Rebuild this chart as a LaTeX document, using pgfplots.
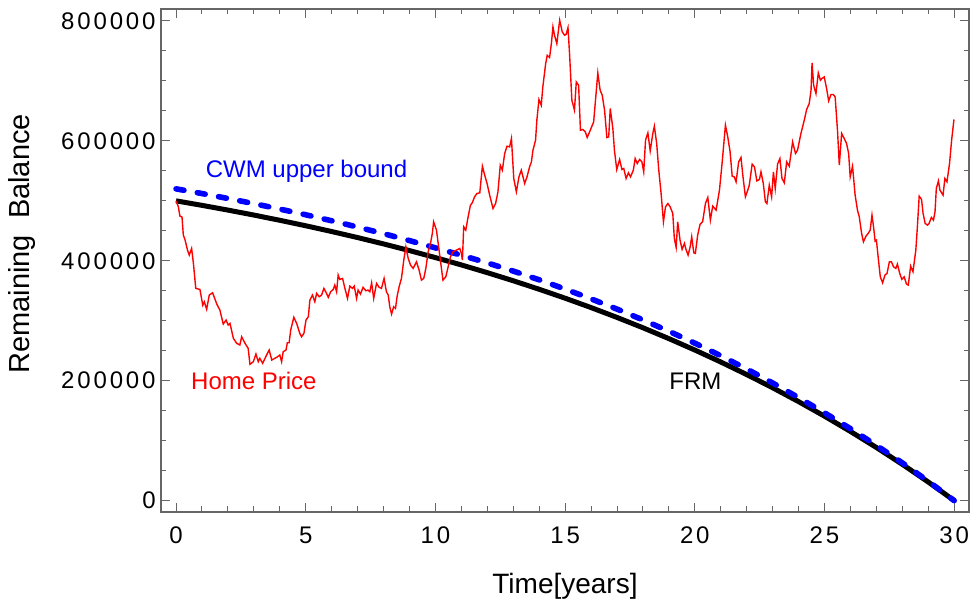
\documentclass[border=0pt]{standalone}
\usepackage{fontspec}
\setmainfont{Liberation Sans}
\newfontfamily\tickfont{Liberation Sans}[LetterSpace=12]
\usepackage{pgfplots}
\pgfplotsset{compat=1.18}
\begin{document}
\begin{tikzpicture}
\begin{axis}[
  scale only axis, width=404pt, height=251.5pt,
  xmin=-0.58, xmax=30.57, ymin=-19000, ymax=820000,
  axis line style={black!60, line width=0.8pt},
  tick style={black!60, line width=0.5pt},
  tick align=inside,
  major tick length=4.5pt, minor tick length=2.75pt,
  xtick={0,5,10,15,20,25,30}, xticklabels={0,5,10,15,20,25,30},
  minor x tick num=4,
  ytick={0,200000,400000,600000,800000},
  yticklabels={0,200000,400000,600000,800000},
  minor y tick num=3,
  scaled y ticks=false,
  xticklabel style={font=\fontsize{12}{14}\tickfont, anchor=base, yshift=-16pt},
  yticklabel style={font=\fontsize{12}{14}\tickfont, anchor=east, inner xsep=2.5pt},
  xlabel={Time[years]},
  ylabel={Remaining\ \ Balance},
  every axis x label/.style={at={(axis description cs:0.5,0)}, anchor=center, yshift=-37pt, font=\fontsize{14}{16}\selectfont},
  every axis y label/.style={at={(axis description cs:-0.172,0.533)}, anchor=center, rotate=90, font=\fontsize{14.5}{16}\selectfont},
]
% FRM
\addplot[black, line width=2.5pt] coordinates {
(0,500000)(1,492475)(2,484573)(3,476276)(4,467564)(5,458416)(6,448811)(7,438726)
(8,428136)(9,417018)(10,405342)(11,393084)(12,380212)(13,366697)(14,352506)
(15,337606)(16,321960)(17,305533)(18,288284)(19,270172)(20,251155)(21,231187)
(22,210221)(23,188206)(24,165091)(25,140819)(26,115335)(27,88575)(28,60479)
(29,30977)(30,0)};
% CWM upper bound
\addplot[blue, line width=2.8pt, dash pattern=on 4pt off 6.8pt, line cap=round] coordinates {
(0,520000)(1,512174)(2,503956)(3,495327)(4,486267)(5,476753)(6,466763)(7,456275)
(8,445261)(9,433699)(10,421556)(11,409300)(12,396500)(13,382800)(14,368300)
(15,352800)(16,336500)(17,319400)(18,301400)(19,282500)(20,262600)(21,241600)
(22,219500)(23,196200)(24,171695)(25,146452)(26,119948)(27,92118)(28,62898)
(29,32216)(30,0)};
% Home price
\addplot[red, line width=0.7pt] coordinates {
(0,500000)(0.09,490000)(0.15,474500)(0.23,473000)(0.28,443000)(0.35,434500)
(0.44,418000)(0.51,409500)(0.60,420600)(0.67,395600)(0.76,354000)(0.92,352300)
(1.03,326000)(1.09,331700)(1.18,319000)(1.28,342800)(1.41,346700)(1.57,327800)
(1.69,317800)(1.82,294500)(1.93,301200)(2.01,292800)(2.08,295600)(2.21,270600)
(2.34,262300)(2.46,259500)(2.53,273300)(2.66,262300)(2.78,254000)(2.85,227300)
(2.98,231700)(3.08,244500)(3.17,231700)(3.23,237300)(3.34,229000)(3.49,242800)
(3.59,251200)(3.69,234500)(3.88,239000)(4.00,242800)(4.07,231700)(4.13,248300)
(4.24,251200)(4.29,263300)(4.36,263300)(4.42,284500)(4.54,305700)(4.65,295600)
(4.77,279000)(4.84,273300)(4.93,279000)(5.01,301200)(5.10,306700)(5.16,334500)
(5.26,342800)(5.35,331700)(5.42,345700)(5.52,340000)(5.61,342800)(5.70,354000)
(5.80,345700)(5.87,339000)(5.96,348300)(6.06,352300)(6.12,359500)(6.19,348300)
(6.25,376200)(6.31,369000)(6.42,370600)(6.51,354000)(6.61,337300)(6.70,357800)
(6.80,354000)(6.87,357800)(6.96,337300)(7.02,351200)(7.11,344500)(7.21,355700)
(7.32,350000)(7.40,351200)(7.47,348300)(7.54,363300)(7.62,337300)(7.73,362300)
(7.83,355700)(7.92,354000)(8.02,370600)(8.11,348300)(8.18,342800)(8.24,323300)
(8.31,311200)(8.39,323300)(8.46,320600)(8.52,340000)(8.60,356700)(8.69,370600)
(8.78,401200)(8.86,423300)(8.95,404000)(9.04,392800)(9.14,387300)(9.27,398300)
(9.37,384500)(9.46,367800)(9.55,370600)(9.63,387300)(9.72,415000)(9.81,429000)
(9.88,445600)(9.93,465000)(10.04,451200)(10.14,417800)(10.29,367800)(10.40,373300)
(10.49,390000)(10.58,406700)(10.68,415000)(10.81,417800)(10.94,420600)(11.00,412300)
(11.04,401200)(11.09,456700)(11.17,451200)(11.26,473300)(11.35,492800)(11.42,496700)
(11.51,506700)(11.60,512300)(11.71,513300)(11.81,557800)(11.90,542800)(11.99,529000)
(12.09,509500)(12.22,487300)(12.32,495600)(12.41,515000)(12.50,559500)(12.58,551200)
(12.67,579000)(12.76,591200)(12.86,590000)(12.93,604000)(13.02,537300)(13.12,515000)
(13.22,540000)(13.31,551200)(13.44,529000)(13.53,540000)(13.63,556700)(13.70,565000)
(13.76,584500)(13.86,601200)(13.91,634500)(13.99,669000)(14.08,659500)(14.14,690000)
(14.25,729000)(14.31,742800)(14.40,739000)(14.47,762300)(14.53,790000)(14.59,776200)
(14.68,762300)(14.79,801200)(14.89,781700)(14.98,776200)(15.04,777800)(15.11,789000)
(15.17,745700)(15.26,667800)(15.36,651200)(15.43,698300)(15.52,692800)(15.59,617800)
(15.68,619000)(15.78,615000)(15.85,605600)(15.97,617800)(16.10,631700)(16.17,667800)
(16.26,713300)(16.35,684500)(16.43,676200)(16.52,651200)(16.61,605600)(16.68,606700)
(16.74,654000)(16.84,620600)(16.90,584500)(16.99,552300)(17.10,569000)(17.19,552300)
(17.26,554000)(17.35,537300)(17.44,546700)(17.52,540000)(17.63,551200)(17.70,570600)
(17.78,562300)(17.87,569000)(17.96,565000)(18.03,548300)(18.10,601200)(18.19,613300)
(18.28,583300)(18.38,612300)(18.44,624500)(18.53,595600)(18.61,551200)(18.70,512300)
(18.79,465000)(18.87,490000)(18.96,495600)(19.05,490000)(19.15,479000)(19.21,437300)
(19.28,422300)(19.34,465000)(19.43,434500)(19.51,419000)(19.60,429000)(19.66,419000)
(19.74,409500)(19.82,423300)(19.88,440000)(19.96,413300)(20.02,412300)(20.11,442800)
(20.20,460600)(20.30,465000)(20.41,495600)(20.50,505600)(20.60,467800)(20.69,491200)
(20.82,484500)(20.95,517800)(21.05,562300)(21.18,626200)(21.27,606700)(21.36,581700)
(21.44,541200)(21.52,540000)(21.59,531700)(21.69,565000)(21.78,572300)(21.85,542800)
(21.95,506700)(22.04,517800)(22.10,526200)(22.21,561200)(22.30,556700)(22.39,533300)
(22.49,535600)(22.55,548300)(22.64,529000)(22.72,498300)(22.78,495600)(22.87,526200)
(22.96,506700)(23.03,548300)(23.10,520600)(23.19,561200)(23.28,570600)(23.36,537300)
(23.45,530000)(23.54,565000)(23.64,557800)(23.77,598300)(23.88,579000)(23.96,584500)
(24.09,612300)(24.22,634500)(24.31,652300)(24.41,662300)(24.48,684500)(24.52,730000)
(24.58,692800)(24.67,679000)(24.76,713300)(24.84,701200)(24.90,704000)(24.99,706700)
(25.08,687300)(25.16,666700)(25.25,677300)(25.34,677300)(25.41,673300)(25.50,617800)
(25.57,559500)(25.66,612300)(25.76,604000)(25.85,595600)(25.93,579000)(25.99,540000)
(26.08,557800)(26.18,509500)(26.27,484500)(26.34,473300)(26.43,445600)(26.50,431700)
(26.60,441200)(26.70,446700)(26.76,451200)(26.83,476200)(26.89,456700)(26.95,432800)
(27.00,434500)(27.08,401200)(27.15,373300)(27.24,363300)(27.33,376200)(27.41,379000)
(27.50,398300)(27.58,398300)(27.66,390000)(27.75,387300)(27.81,394500)(27.90,379000)
(27.98,369000)(28.07,373300)(28.16,361200)(28.23,359500)(28.32,391200)(28.41,381700)
(28.52,417800)(28.58,456700)(28.65,507800)(28.74,502300)(28.80,479000)(28.88,462300)
(28.97,459500)(29.03,462300)(29.12,472300)(29.20,467800)(29.26,481700)(29.31,520600)
(29.39,533300)(29.45,517800)(29.57,509500)(29.64,537300)(29.72,531700)(29.82,562300)
(29.90,601200)(29.99,635700)};
\node[blue, anchor=base, font=\fontsize{12}{14}\selectfont] at (axis cs:5.03,539300) {CWM upper bound};
\node[red, anchor=base, font=\fontsize{12}{14}\selectfont] at (axis cs:3.0,184500) {Home Price};
\node[black, anchor=base, font=\fontsize{12}{14}\selectfont] at (axis cs:20.02,186000) {FRM};
\end{axis}
\pgfresetboundingbox
\path[use as bounding box] ([xshift=-80.5pt,yshift=-45.5pt]current axis.south west) rectangle ([xshift=3.5pt,yshift=4.5pt]current axis.north east);
\end{tikzpicture}
\end{document}
